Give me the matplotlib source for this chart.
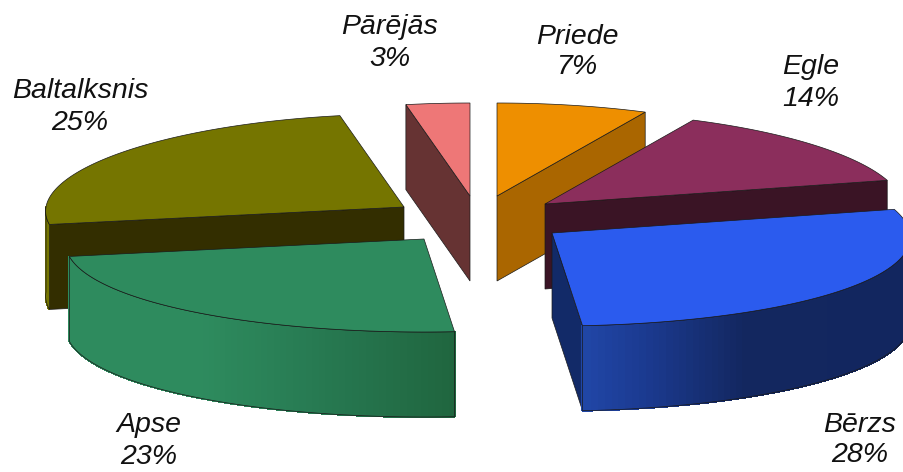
"""Exploded 3D pie of tree species shares, drawn as polygons"""
import numpy as np
import matplotlib
matplotlib.use('Agg')
import matplotlib.pyplot as plt
from matplotlib.colors import to_rgb
from matplotlib.patches import Polygon

# Data, clockwise from 12 o'clock
species = ['Priede', 'Egle', 'Bērzs', 'Apse', 'Baltalksnis', 'Pārējās']
shares = [7.1, 13.8, 27.8, 23.3, 25.0, 3.0]

# Layout in pixels
apexes = [(497, 196), (545, 204), (552, 233), (424, 239), (404, 207), (470, 196)]
label_pos = [(577, 52), (811, 83), (860, 440), (149, 441), (80, 107), (390, 43)]
draw_order = [5, 0, 1, 4, 3, 2]
RX, RY, DEPTH, PERSP = 358, 93, 85, 0.045

top_colors = ['#EE8F00', '#8B2E5C', '#2B5BEE', '#2E8B5E', '#757500', '#EE7777']
cut_colors = ['#AA6600', '#3A1425', '#122A68', '#20663F', '#332E00', '#663333']
# outer wall gradient: (colour stops as fraction across wall, colour)
wall_stops = [
    [(0, '#AA6600'), (1, '#AA6600')],
    [(0, '#3A1425'), (1, '#3A1425')],
    [(0, '#2147A8'), (0.2, '#1B3A90'), (0.5, '#13275F'), (1, '#12265F')],
    [(0, '#2E8B5E'), (0.35, '#2E8B5E'), (0.65, '#277A52'), (1, '#20663F')],
    [(0, '#757500'), (1, '#757500')],
    [(0, '#663333'), (1, '#663333')],
]
EDGE = '#1a1a1a'


def rim(apex, theta):
    """Screen point on the rim for theta (radians, clockwise from north)."""
    rx = RX * (1 - PERSP * np.cos(theta))
    return np.array([apex[0] + rx * np.sin(theta), apex[1] - RY * np.cos(theta)])


def cut_visible(apex, p, mid):
    """Cut wall shows only when the wedge lies above its edge on screen."""
    a, b = sorted([np.array(apex, float), p], key=lambda q: q[0])
    e, m = b - a, mid - a
    return abs(e[0]) > 1 and e[0] * m[1] - e[1] * m[0] < 0


def wall_color(stops, t):
    xs = [s[0] for s in stops]
    cols = np.array([to_rgb(s[1]) for s in stops])
    return [np.interp(t, xs, cols[:, i]) for i in range(3)]


def draw_slice(ax, i, t0, t1):
    apex = apexes[i]
    thetas = np.linspace(t0, t1, 120)
    arc = np.array([rim(apex, t) for t in thetas])
    down = np.array([0, DEPTH])
    mid = rim(apex, (t0 + t1) / 2)

    # cut walls
    for p in (arc[0], arc[-1]):
        if cut_visible(apex, p, mid):
            quad = [apex, p, p + down, np.array(apex) + down]
            ax.add_patch(Polygon(quad, closed=True, facecolor=cut_colors[i],
                                 edgecolor=EDGE, linewidth=0.5))

    # outer wall, front half only
    lo, hi = max(t0, np.pi / 2), min(t1, 3 * np.pi / 2)
    if hi > lo:
        wall_t = np.linspace(lo, hi, 80)
        wall = np.array([rim(apex, t) for t in wall_t])
        xmin, xmax = wall[:, 0].min(), wall[:, 0].max()
        for j in range(len(wall) - 1):
            c = wall_color(wall_stops[i], (wall[j, 0] - xmin) / max(xmax - xmin, 1))
            quad = [wall[j], wall[j + 1], wall[j + 1] + down, wall[j] + down]
            ax.add_patch(Polygon(quad, closed=True, facecolor=c, edgecolor=c,
                                 linewidth=0.8, antialiased=False))
        outline = np.vstack([wall, (wall + down)[::-1]])
        ax.add_patch(Polygon(outline, closed=True, fill=False, edgecolor=EDGE, linewidth=0.5))

    # top face
    top = np.vstack([[apex], arc])
    ax.add_patch(Polygon(top, closed=True, facecolor=top_colors[i], edgecolor=EDGE, linewidth=0.5))


fig = plt.figure(figsize=(9.04, 4.72), dpi=100)
ax = fig.add_axes([0, 0, 1, 1])
ax.set_xlim(0, 904)
ax.set_ylim(472, 0)
ax.axis('off')

edges = np.concatenate([[0], np.cumsum(shares)]) / np.sum(shares) * 2 * np.pi
for i in draw_order:
    draw_slice(ax, i, edges[i], edges[i + 1])

for name, share, (lx, ly) in zip(species, shares, label_pos):
    ax.text(lx, ly, f'{name}\n{round(share)}%', ha='center', va='center', fontsize=20.5,
            style='italic', family='Liberation Sans', color='#111111', linespacing=1.25)

fig.savefig('out.png', dpi=100)
plt.close(fig)
